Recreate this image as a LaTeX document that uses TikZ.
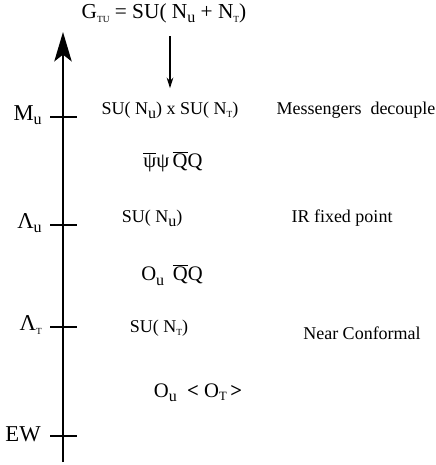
\documentclass[tikz,border=0pt]{standalone}
\usepackage{fontspec}
\setmainfont{Liberation Serif}
\usetikzlibrary{arrows.meta,calc,positioning}
\newcommand{\dn}[1]{\raisebox{-0.45ex}{\fontsize{12}{12}\selectfont #1}}
\newcommand{\dnsmall}[1]{\raisebox{-0.4ex}{\fontsize{7}{7}\selectfont #1}}
\newcommand{\dnmid}[1]{\raisebox{-0.3ex}{\fontsize{9.5}{10}\selectfont #1}}
\newcommand{\barred}[1]{$\overline{\hbox{#1}}$}
\tikzset{every picture/.style={line cap=butt}}

\begin{document}
\begin{tikzpicture}[x=0.75pt,y=-0.75pt,
    every node/.style={inner sep=0pt,font=\fontsize{13.5}{16}\selectfont},
    scalelabel/.style={anchor=east,font=\fontsize{17}{20}\selectfont},
    opslabel/.style={font=\fontsize{15.5}{18}\selectfont},
    scaletick/.style={line width=1.8pt},
    axisline/.style={line width=1.8pt,-{Stealth[length=22pt,width=13pt,inset=5pt]}}]
    \useasboundingbox (0,0) rectangle (436,465);
    % energy axis
    \coordinate (bot) at (63,462);
    \coordinate (top) at (63,32);
    \draw [axisline] (bot) -- (top);
    \foreach \y/\n in {117/mu,225/lu,327/lt,436/ew}
        \draw [scaletick] (50,\y) coordinate (\n) -- ++(27,0);
    \node [scalelabel] (mulab) at ($(mu)+(-8,-2)$) {M\dn{u}};
    \node [scalelabel] (lulab) at ($(lu)+(-8,-2)$) {Λ\dn{u}};
    \node [scalelabel] (ltlab) at ($(lt)+(-8,-2)$) {Λ\dnsmall{T}};
    \node [scalelabel] (ewlab) at ($(ew)+(-9,-2)$) {EW};
    % groups and operators
    \node [font=\fontsize{16}{18}\selectfont] (gtu) at (164,13) {G\dnsmall{TU} = SU( N\dn{u} + N\dnsmall{T})};
    \node (split) at (170,110) {SU( N\dn{u}) x SU( N\dnsmall{T})};
    \node [opslabel] (ops1) at (173,162) {\barred{ψ}ψ\,\barred{Q}Q};
    \node (sunu) at (152,218) {SU( N\dn{u})};
    \node [opslabel] (ops2) at (172,275) {O\dn{u}\, \barred{Q}Q};
    \node (sunt) at (159,328) {SU( N\dnsmall{T})};
    \node [opslabel] (ops3) at (198,393) {O\dn{u}\ \ \textbf{<}\ O\dnmid{T}\,\textbf{>}};
    \draw [-{Stealth[length=8pt,width=5pt]},line width=0.9pt,shorten <=10pt,shorten >=10pt] (split |- gtu.south) -- (split.north);
    % regimes
    \node (msg) at (356,110) {Messengers\ \ decouple};
    \node (irfp) at (342,218) {IR fixed point};
    \node (nearc) at (362,333) {Near Conformal};
\end{tikzpicture}
\end{document}
